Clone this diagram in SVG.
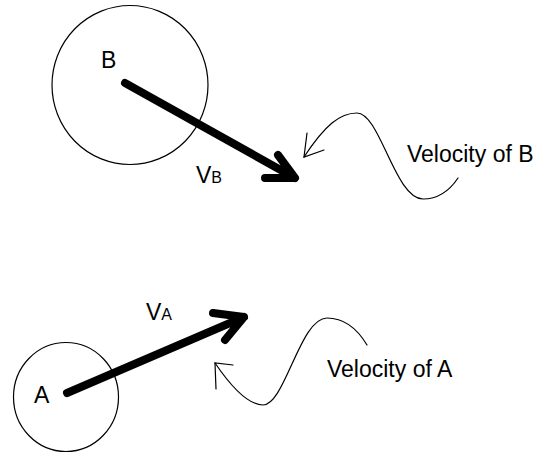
<svg xmlns="http://www.w3.org/2000/svg" width="547" height="453" viewBox="0 0 547 453">
<style>
.body{fill:none;stroke:#000;stroke-width:1.2}
.vel{fill:none;stroke:#000;stroke-width:8;stroke-linecap:round;stroke-linejoin:round}
.pointer{fill:none;stroke:#000;stroke-width:1.2;stroke-linecap:round;stroke-linejoin:miter}
text{font-family:"Liberation Sans",Arial,sans-serif;fill:#000}
.big{font-size:23px}
.sub{font-size:16px}
</style>
<rect width="547" height="453" fill="#fff"/>
<g id="bodyB">
<ellipse class="body" cx="130" cy="85" rx="78" ry="79.5"/>
<text class="big" x="101" y="68">B</text>
</g>
<g id="bodyA">
<ellipse class="body" cx="66" cy="397" rx="52.5" ry="54.5"/>
<text class="big" x="34" y="403">A</text>
</g>
<g id="labelB">
<text class="big" x="407" y="162">Velocity of B</text>
</g>
<g id="labelA">
<text class="big" x="327" y="377">Velocity of A</text>
</g>
<g id="connectors">
<g id="velocityB">
<path class="vel" d="M125,83 L295,178 M278,155 L295,178 L265,178"/>
<text class="big" x="196" y="183">V<tspan class="sub">B</tspan></text>
</g>
<g id="velocityA">
<path class="vel" d="M67,393 L244,317 M213,313 L244,317 L225,340"/>
<text class="big" x="146" y="320">V<tspan class="sub">A</tspan></text>
</g>
<path class="pointer" d="M458,178 C450,190 438,199 423,199 C395,199 380,113 357,113 C340,113 325,125 304,157"/>
<path class="pointer" d="M307,133 L304,157 L324,150"/>
<path class="pointer" d="M367,345 C358,330 345,318 327,318 C300,318 285,405 263,405 C248,405 230,385 215,363"/>
<path class="pointer" d="M216,389 L215,363 L233,365"/>
</g>
</svg>
